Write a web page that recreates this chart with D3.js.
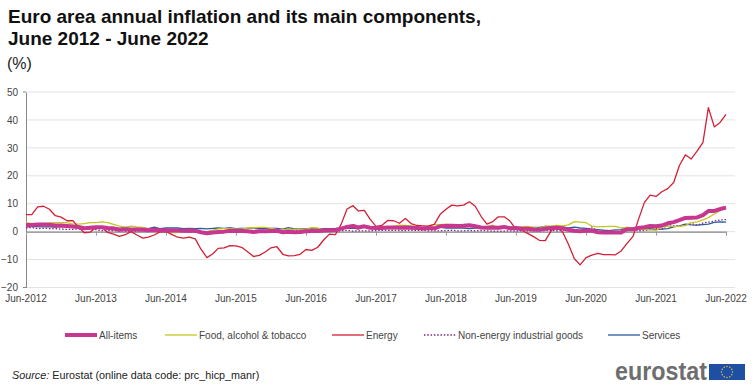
<!DOCTYPE html>
<html>
<head>
<meta charset="utf-8">
<title>Euro area annual inflation</title>
<script src="https://d3js.org/d3.v7.min.js"></script>
<style>
  body { margin: 0; background: #fff; }
  svg { display: block; font-family: "Liberation Sans", Arial, sans-serif; }
</style>
</head>
<body>
<svg id="chart" width="754" height="386"></svg>
<script>
// monthly annual rates (%), Jun-2012 .. Jun-2022
const startMonth = new Date(2012, 5, 1);
const allItems = [
  2.4, 2.4, 2.6, 2.6, 2.5, 2.2, 2.2,
  2.0, 1.8, 1.7, 1.2, 1.4, 1.6, 1.6, 1.3, 1.1, 0.7, 0.9, 0.8,
  0.8, 0.7, 0.5, 0.7, 0.5, 0.5, 0.4, 0.4, 0.3, 0.4, 0.3, -0.2,
  -0.6, -0.3, -0.1, 0.0, 0.3, 0.2, 0.2, 0.1, -0.1, 0.1, 0.1, 0.2,
  0.3, -0.2, 0.0, -0.2, -0.1, 0.1, 0.2, 0.2, 0.4, 0.5, 0.6, 1.1,
  1.7, 2.0, 1.5, 1.9, 1.4, 1.3, 1.3, 1.5, 1.5, 1.4, 1.5, 1.4,
  1.3, 1.1, 1.3, 1.2, 1.9, 2.0, 2.1, 2.0, 2.1, 2.3, 1.9, 1.5,
  1.4, 1.5, 1.4, 1.7, 1.2, 1.3, 1.0, 1.0, 0.8, 0.7, 1.0, 1.3,
  1.4, 1.2, 0.7, 0.3, 0.1, 0.3, 0.4, -0.2, -0.3, -0.3, -0.3, -0.3,
  0.9, 0.9, 1.3, 1.6, 2.0, 1.9, 2.2, 3.0, 3.4, 4.1, 4.9, 5.0,
  5.1, 5.9, 7.4, 7.4, 8.1, 8.6
];
const food = [
  3.2, 2.9, 2.9, 2.9, 3.1, 3.2, 3.2,
  3.2, 2.7, 2.7, 2.9, 3.2, 3.2, 3.5, 3.2, 2.6, 2.0, 1.6, 2.0,
  1.7, 1.5, 1.0, 0.7, 0.1, 0.2, -0.3, -0.3, 0.3, 0.5, 0.5, 0.0,
  0.0, 0.5, 1.0, 1.1, 1.2, 0.9, 0.9, 1.3, 1.4, 1.5, 1.5, 1.2,
  0.8, 0.7, 0.8, 0.8, 0.9, 0.9, 1.4, 1.3, 0.7, 0.5, 0.7, 1.2,
  1.7, 2.5, 1.8, 1.5, 1.5, 1.3, 1.4, 1.4, 1.9, 2.3, 2.2, 2.1,
  1.9, 1.0, 2.1, 2.6, 2.5, 2.7, 2.5, 2.4, 2.6, 2.2, 1.9, 1.8,
  1.8, 2.3, 1.0, 1.5, 1.6, 1.5, 1.7, 1.9, 1.5, 1.2, 2.0, 2.0,
  2.2, 2.1, 2.4, 3.6, 3.4, 3.2, 2.0, 1.7, 1.8, 1.9, 1.9, 1.3,
  1.5, 1.3, 1.1, 0.7, 0.6, 0.5, 1.6, 2.0, 1.9, 1.9, 2.2, 3.2,
  3.5, 4.2, 5.0, 6.3, 7.5, 8.9
];
const energy = [
  6.1, 6.1, 8.9, 9.1, 8.0, 5.7, 5.2,
  3.9, 3.9, 1.7, -0.4, -0.2, 1.6, 1.6, -0.3, -0.9, -1.7, -1.1, 0.0,
  -1.2, -2.3, -2.0, -1.2, -0.1, 0.1, -1.0, -2.0, -2.3, -2.0, -2.6, -6.3,
  -9.3, -7.9, -6.0, -5.8, -5.0, -5.1, -5.6, -7.2, -8.9, -8.5, -7.3, -5.8,
  -5.4, -8.1, -8.7, -8.6, -8.1, -6.4, -6.7, -5.6, -3.0, -0.9, -1.1, 2.6,
  8.1, 9.3, 7.4, 7.6, 4.5, 1.9, 2.2, 4.0, 3.9, 3.0, 4.7, 2.9,
  2.2, 2.1, 2.0, 2.6, 6.1, 8.0, 9.5, 9.2, 9.5, 10.7, 9.1, 5.5,
  2.7, 3.6, 5.3, 5.3, 3.8, 0.9, 0.5, -0.6, -1.8, -3.1, -3.2, 0.2,
  1.9, -0.3, -4.5, -9.7, -11.9, -9.3, -8.4, -7.8, -8.2, -8.2, -8.3, -6.9,
  -4.2, -1.7, 4.3, 10.4, 13.1, 12.6, 14.3, 15.4, 17.6, 23.7, 27.5, 26.0,
  28.8, 32.0, 44.4, 37.5, 39.1, 42.0
];
const nonEnergyGoods = [
  1.3, 1.5, 1.1, 1.2, 1.1, 1.1, 0.9,
  0.8, 0.8, 1.0, 0.8, 0.8, 0.7, 0.4, 0.4, 0.4, 0.3, 0.2, 0.2,
  0.2, 0.4, 0.2, 0.1, 0.0, -0.1, 0.0, 0.3, 0.2, -0.1, -0.1, 0.0,
  0.0, -0.1, 0.0, 0.1, 0.2, 0.2, 0.6, 0.4, 0.3, 0.5, 0.5, 0.5,
  0.7, 0.7, 0.5, 0.5, 0.4, 0.5, 0.4, 0.3, 0.3, 0.3, 0.3, 0.3,
  0.5, 0.2, 0.3, 0.3, 0.3, 0.4, 0.5, 0.5, 0.5, 0.4, 0.4, 0.5,
  0.5, 0.5, 0.3, 0.3, 0.3, 0.4, 0.5, 0.3, 0.3, 0.4, 0.3, 0.4,
  0.3, 0.2, 0.2, 0.2, 0.3, 0.2, 0.3, 0.3, 0.3, 0.3, 0.4, 0.5,
  0.3, 0.5, 0.5, 0.3, 0.2, 0.2, 1.7, -0.1, -0.1, -0.1, -0.3, -0.5,
  1.5, 1.0, 0.3, 0.4, 0.7, 1.2, 0.7, 2.6, 2.1, 2.0, 2.4, 2.9,
  2.3, 3.1, 3.4, 3.8, 4.2, 4.3
];
const services = [
  1.7, 1.8, 1.8, 1.7, 1.7, 1.6, 1.8,
  1.6, 1.5, 1.8, 1.1, 1.5, 1.4, 1.4, 1.4, 1.5, 1.2, 1.4, 1.0,
  1.2, 1.3, 1.1, 1.6, 1.1, 1.3, 1.3, 1.3, 1.1, 1.2, 1.1, 1.2,
  1.0, 1.2, 1.3, 1.2, 1.4, 1.1, 1.2, 1.2, 1.3, 1.2, 1.1, 1.2,
  1.2, 0.9, 1.4, 1.0, 1.0, 1.1, 1.2, 1.1, 1.1, 1.1, 1.1, 1.3,
  1.2, 1.3, 1.0, 1.8, 1.3, 1.6, 1.6, 1.6, 1.5, 1.2, 1.5, 1.2,
  1.3, 1.3, 1.5, 1.0, 1.6, 1.3, 1.4, 1.3, 1.3, 1.1, 1.3, 1.3,
  1.2, 1.4, 1.1, 1.9, 1.0, 1.6, 1.2, 1.3, 1.5, 1.5, 1.9, 1.8,
  1.5, 1.6, 1.3, 1.6, 1.3, 1.2, 0.9, 0.7, 0.5, 0.4, 0.6, 0.7,
  1.4, 1.3, 1.3, 0.9, 1.1, 0.7, 0.9, 1.1, 1.7, 2.1, 2.7, 2.4,
  2.3, 2.5, 2.7, 3.3, 3.5, 3.4
];
const seriesNames = ["All-items", "Food, alcohol & tobacco", "Energy", "Non-energy industrial goods", "Services"];
const yTicks = [-20, -10, 0, 10, 20, 30, 40, 50];
const xTickYears = [2012, 2013, 2014, 2015, 2016, 2017, 2018, 2019, 2020, 2021, 2022];

const series = [
  { name: seriesNames[4], values: services, color: "#2b5c9e", width: 1.3, dash: null },
  { name: seriesNames[3], values: nonEnergyGoods, color: "#7d2680", width: 1.3, dash: "1.5,1.8" },
  { name: seriesNames[1], values: food, color: "#c3c623", width: 1.3, dash: null },
  { name: seriesNames[2], values: energy, color: "#d21f35", width: 1.3, dash: null },
  { name: seriesNames[0], values: allItems, color: "#c8378f", width: 4, dash: null }
];

const svg = d3.select("#chart");
const plotLeft = 26, plotRight = 726, plotTop = 92, plotBottom = 287.5;

const months = allItems.map((_, i) => d3.timeMonth.offset(startMonth, i));
const x = d3.scaleTime()
  .domain([startMonth, months[months.length - 1]])
  .range([plotLeft, plotRight]);
const y = d3.scaleLinear().domain([-20, 50]).range([plotBottom, plotTop]);

// title
svg.append("text").attr("x", 8).attr("y", 23)
  .attr("font-size", 19).attr("font-weight", "bold").attr("fill", "#111")
  .text("Euro area annual inflation and its main components,");
svg.append("text").attr("x", 8).attr("y", 45)
  .attr("font-size", 19).attr("font-weight", "bold").attr("fill", "#111")
  .text("June 2012 - June 2022");
svg.append("text").attr("x", 7).attr("y", 69)
  .attr("font-size", 16).attr("fill", "#222").text("(%)");

// grid
svg.append("g").selectAll("line").data(yTicks).join("line")
  .attr("x1", plotLeft).attr("x2", 735)
  .attr("y1", d => y(d)).attr("y2", d => y(d))
  .attr("stroke", "#e3e3e3").attr("stroke-width", 1);

// y axis
const yAxis = svg.append("g").attr("transform", `translate(${plotLeft},0)`)
  .call(d3.axisLeft(y).tickValues(yTicks).tickSize(0).tickPadding(8));
yAxis.select(".domain").attr("stroke", "#888");
yAxis.selectAll("text").attr("font-size", 10).attr("fill", "#444")
  .attr("font-family", "Liberation Sans, Arial, sans-serif");
svg.append("g").selectAll("line").data([50, -20]).join("line")
  .attr("x1", plotLeft - 3).attr("x2", plotLeft)
  .attr("y1", d => y(d)).attr("y2", d => y(d)).attr("stroke", "#888");

// zero axis with june ticks
const zeroAxis = svg.append("g").attr("transform", `translate(0,${y(0)})`)
  .call(d3.axisBottom(x)
    .tickValues(xTickYears.map(yr => new Date(yr, 5, 1)))
    .tickSize(4).tickFormat(""));
zeroAxis.select(".domain").attr("stroke", "#6f6f6f");
zeroAxis.selectAll(".tick line").attr("stroke", "#999");

// x labels
const fmt = d3.timeFormat("%b-%Y");
svg.append("g").selectAll("text").data(xTickYears).join("text")
  .attr("x", d => x(new Date(d, 5, 1))).attr("y", 302)
  .attr("text-anchor", "middle").attr("font-size", 10).attr("fill", "#444")
  .text(d => fmt(new Date(d, 5, 1)));

// lines
const line = d3.line().x((d, i) => x(months[i])).y(d => y(d));
svg.append("g").selectAll("path").data(series).join("path")
  .attr("d", d => line(d.values))
  .attr("fill", "none")
  .attr("stroke", d => d.color)
  .attr("stroke-width", d => d.width)
  .attr("stroke-dasharray", d => d.dash)
  .attr("stroke-linejoin", "round");

// legend
const legendItems = [
  { name: seriesNames[0], x: 65, color: "#c8378f", width: 4, dash: null },
  { name: seriesNames[1], x: 165, color: "#c3c623", width: 1.3, dash: null },
  { name: seriesNames[2], x: 332, color: "#d21f35", width: 1.3, dash: null },
  { name: seriesNames[3], x: 424, color: "#7d2680", width: 1.3, dash: "1.5,1.8" },
  { name: seriesNames[4], x: 608, color: "#2b5c9e", width: 1.3, dash: null }
];
const lg = svg.append("g").selectAll("g").data(legendItems).join("g")
  .attr("transform", d => `translate(${d.x},335)`);
lg.append("line").attr("x1", 0).attr("x2", 32)
  .attr("stroke", d => d.color).attr("stroke-width", d => d.width)
  .attr("stroke-dasharray", d => d.dash);
lg.append("text").attr("x", 34).attr("y", 4)
  .attr("font-size", 10).attr("fill", "#444").text(d => d.name);

// source
const src = svg.append("text").attr("x", 12).attr("y", 379)
  .attr("font-size", 10.8).attr("fill", "#222");
src.append("tspan").attr("font-style", "italic").text("Source:");
src.append("tspan").text(" Eurostat (online data code: prc_hicp_manr)");

// eurostat logo
svg.append("text").attr("x", 615).attr("y", 380)
  .attr("font-size", 25).attr("font-weight", "bold").attr("fill", "#6e6e6e")
  .attr("textLength", 92).attr("lengthAdjust", "spacingAndGlyphs")
  .text("eurostat");
svg.append("rect").attr("x", 709).attr("y", 364).attr("width", 36).attr("height", 16)
  .attr("fill", "#1f4fa3");
const stars = d3.range(12).map(i => i * Math.PI / 6);
svg.append("g").selectAll("circle").data(stars).join("circle")
  .attr("cx", a => 727 + 5.5 * Math.cos(a)).attr("cy", a => 372 + 5.5 * Math.sin(a))
  .attr("r", 0.7).attr("fill", "#f2d230");
</script>
</body>
</html>
